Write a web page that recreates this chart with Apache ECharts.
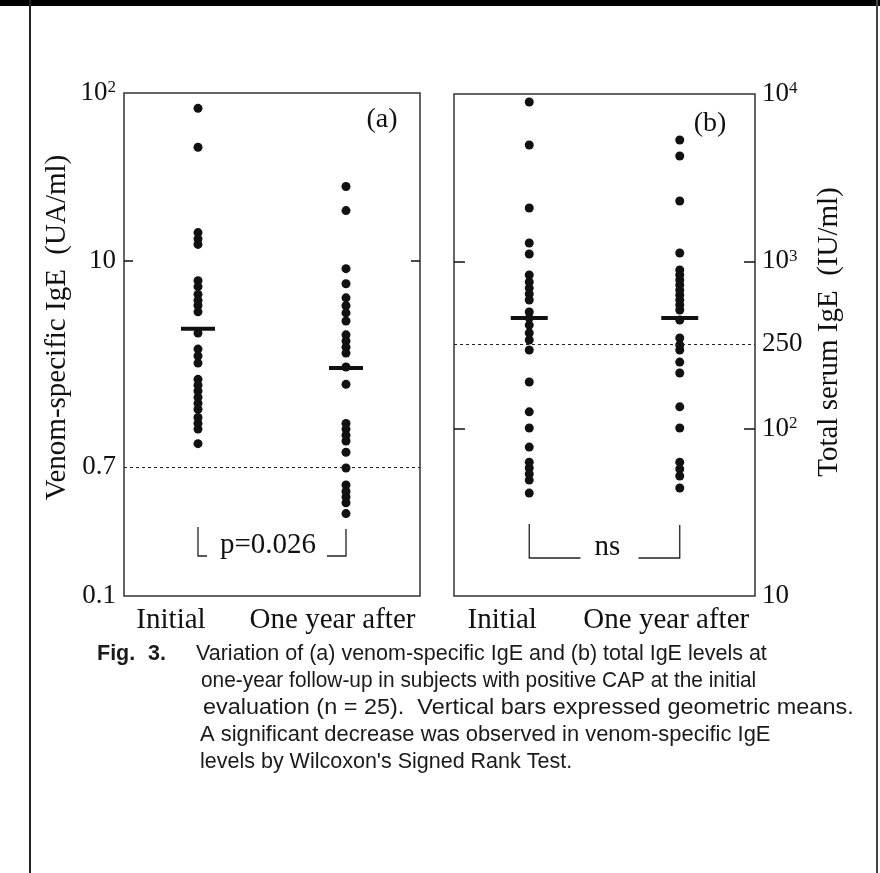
<!DOCTYPE html>
<html><head><meta charset="utf-8">
<script src="https://cdn.jsdelivr.net/npm/echarts@6/dist/echarts.min.js"></script>
<style>html,body{margin:0;padding:0;background:#fff}#c{width:880px;height:873px}</style>
</head><body><div id="c"></div>
<script>
// ---- data ----
const categories = ['Initial', 'One year after'];
const venomInitial = [81, 47.5, 14.7, 13.5, 12.5, 7.6, 7.0, 6.3, 5.8, 5.4, 4.95, 3.7, 2.97, 2.7, 2.45, 1.96, 1.81, 1.67, 1.53, 1.41, 1.3, 1.16, 1.07, 0.99, 0.81];
const venomAfter = [27.7, 19.9, 8.96, 7.28, 6.0, 5.38, 4.88, 4.37, 3.61, 3.32, 3.05, 2.81, 2.32, 1.83, 1.07, 0.99, 0.91, 0.84, 0.72, 0.58, 0.46, 0.42, 0.39, 0.36, 0.31];
const totalInitial = [8960, 4955, 2084, 1286, 1106, 828, 752, 692, 638, 587, 498, 458, 416, 373, 339, 295, 190, 126, 101, 77.6, 63.1, 58.2, 53.6, 49.3, 41.2];
const totalAfter = [5309, 4260, 2293, 1121, 887, 828, 773, 722, 673, 629, 587, 548, 512, 446, 348, 316, 295, 250, 215, 135, 101, 63.1, 57.4, 52.1, 44.2];
const venomMeans = [3.92, 2.29];
const totalMeans = [458, 458];
const venomThreshold = 0.59, venomThresholdLabel = '0.7';
const totalThreshold = 321, totalThresholdLabel = '250';
const venomTickLabels = [0.1, 10, 100];
const venomTicks = [10];
const totalTickLabels = [10, 100, 1000, 10000];
const totalTicks = [100, 1000];
const venomName = 'Venom-specific IgE  (UA/ml)';
const totalName = 'Total serum IgE  (IU/ml)';
const pValueText = 'p=0.026';
const nsText = 'ns';
const captionLines = [
  'Variation of (a) venom-specific IgE and (b) total IgE levels at',
  'one-year follow-up in subjects with positive CAP at the initial',
  'evaluation (n = 25).  Vertical bars expressed geometric means.',
  'A significant decrease was observed in venom-specific IgE',
  "levels by Wilcoxon's Signed Rank Test."
];

// ---- chart ----
const SERIF = '"Liberation Serif", "DejaVu Serif", serif';
const SANS = '"Liberation Sans", Arial, sans-serif';
const INK = '#111';
const chart = echarts.init(document.getElementById('c'), null, {renderer: 'canvas'});

function powLabel(v) {
  const e = Math.round(Math.log10(v));
  if (v >= 100 && Math.abs(v - Math.pow(10, e)) < 1e-6) return '10{s|' + e + '}';
  return String(v);
}
const labelRich = {
  s: {fontSize: 17, fontFamily: SERIF, color: INK, verticalAlign: 'top'}
};
function catLabel(v) { return v === categories[0] ? '{i|' + v + '}' : '{o|' + v + '}'; }
const catRich = {
  i: {fontSize: 29, fontFamily: SERIF, color: INK, padding: [0, 54, 0, 0]},
  o: {fontSize: 29, fontFamily: SERIF, color: INK, padding: [0, 27, 0, 0]}
};
function xAxisFor(g) {
  return {
    gridIndex: g, type: 'category', data: categories, boundaryGap: true,
    axisLine: {show: false}, axisTick: {show: false}, splitLine: {show: false},
    axisLabel: {interval: 0, hideOverlap: false, fontSize: 29, fontFamily: SERIF, color: INK, margin: 10, formatter: catLabel, rich: catRich}
  };
}
const tickStyle = {color: INK, width: 1.5};
function pts(vals, cat) { return vals.map(v => [cat, v]); }
const markLineBase = {
  silent: true, symbol: ['none', 'none'],
  lineStyle: {type: [3, 3], color: '#222', width: 1}
};
const dotStyle = {color: INK, opacity: 1};

chart.setOption({
  animation: false,
  backgroundColor: '#fff',
  grid: [
    {left: 124, top: 93, width: 296, height: 503, show: true, borderColor: '#333', borderWidth: 1.5, backgroundColor: 'transparent'},
    {left: 454, top: 94, width: 301, height: 502, show: true, borderColor: '#333', borderWidth: 1.5, backgroundColor: 'transparent'}
  ],
  xAxis: [xAxisFor(0), xAxisFor(1)],
  yAxis: [
    {
      gridIndex: 0, type: 'log', logBase: 10, min: 0.1, max: 100, position: 'left',
      axisLine: {show: false}, splitLine: {show: false}, minorTick: {show: false},
      axisTick: {show: true, inside: true, length: 9, customValues: venomTicks, lineStyle: tickStyle},
      axisLabel: {customValues: venomTickLabels, formatter: powLabel, rich: labelRich, fontSize: 27, fontFamily: SERIF, color: INK, margin: 8},
      name: venomName, nameLocation: 'middle', nameRotate: 90, nameGap: 52,
      nameTextStyle: {fontSize: 29, fontFamily: SERIF, color: INK, padding: [0, 0, 0, 34]}
    },
    {
      gridIndex: 0, type: 'log', logBase: 10, min: 0.1, max: 100, position: 'right',
      axisLine: {show: false}, splitLine: {show: false},
      axisTick: {show: true, inside: true, length: 9, customValues: venomTicks, lineStyle: tickStyle},
      axisLabel: {show: false}
    },
    {
      gridIndex: 1, type: 'log', logBase: 10, min: 10, max: 10000, position: 'left',
      axisLine: {show: false}, splitLine: {show: false},
      axisTick: {show: true, inside: true, length: 11, customValues: totalTicks, lineStyle: tickStyle},
      axisLabel: {show: false}
    },
    {
      gridIndex: 1, type: 'log', logBase: 10, min: 10, max: 10000, position: 'right',
      axisLine: {show: false}, splitLine: {show: false},
      axisTick: {show: true, inside: true, length: 11, customValues: totalTicks, lineStyle: tickStyle},
      axisLabel: {customValues: totalTickLabels, formatter: powLabel, rich: labelRich, fontSize: 27, fontFamily: SERIF, color: INK, margin: 7},
      name: totalName, nameLocation: 'middle', nameRotate: 90, nameGap: 60,
      nameTextStyle: {fontSize: 29, fontFamily: SERIF, color: INK, padding: [0, 0, 0, 26]}
    }
  ],
  series: [
    {
      type: 'scatter', xAxisIndex: 0, yAxisIndex: 0, symbolSize: 9, itemStyle: dotStyle,
      data: pts(venomInitial, categories[0]).concat(pts(venomAfter, categories[1])),
      markLine: Object.assign({}, markLineBase, {
        data: [{yAxis: venomThreshold}],
        label: {show: true, position: 'start', distance: 8, formatter: venomThresholdLabel, fontSize: 27, fontFamily: SERIF, color: INK}
      })
    },
    {
      type: 'scatter', xAxisIndex: 0, yAxisIndex: 0, symbol: 'rect', symbolSize: [34, 4], itemStyle: dotStyle, z: 3,
      data: categories.map((c, i) => [c, venomMeans[i]])
    },
    {
      type: 'scatter', xAxisIndex: 1, yAxisIndex: 2, symbolSize: 9, itemStyle: dotStyle,
      data: pts(totalInitial, categories[0]).concat(pts(totalAfter, categories[1])),
      markLine: Object.assign({}, markLineBase, {
        data: [{yAxis: totalThreshold}],
        label: {show: true, position: 'end', distance: 7, formatter: totalThresholdLabel, fontSize: 27, fontFamily: SERIF, color: INK}
      })
    },
    {
      type: 'scatter', xAxisIndex: 1, yAxisIndex: 2, symbol: 'rect', symbolSize: [37, 4], itemStyle: dotStyle, z: 3,
      data: categories.map((c, i) => [c, totalMeans[i]])
    }
  ]
});

// ---- annotations placed from the axes ----
const aI = chart.convertToPixel({xAxisIndex: 0}, categories[0]);
const aA = chart.convertToPixel({xAxisIndex: 0}, categories[1]);
const bI = chart.convertToPixel({xAxisIndex: 1}, categories[0]);
const bA = chart.convertToPixel({xAxisIndex: 1}, categories[1]);
const lineSt = {stroke: '#222', lineWidth: 1.3, fill: null};
const CAP_FONT = '21.5px ' + SANS;
const graphics = [
  {type: 'rect', shape: {x: 0, y: 0, width: 880, height: 6}, style: {fill: '#000'}},
  {type: 'rect', shape: {x: 29, y: 0, width: 2, height: 873}, style: {fill: '#222'}},
  {type: 'rect', shape: {x: 876, y: 0, width: 2, height: 873}, style: {fill: '#444'}},
  {type: 'text', x: 382, y: 120, style: {text: '(a)', font: '28px ' + SERIF, fill: INK, align: 'center', verticalAlign: 'middle'}},
  {type: 'text', x: 710, y: 124, style: {text: '(b)', font: '28px ' + SERIF, fill: INK, align: 'center', verticalAlign: 'middle'}},
  // bracket (a)
  {type: 'polyline', shape: {points: [[aI, 527], [aI, 556], [aI + 9, 556]]}, style: lineSt},
  {type: 'polyline', shape: {points: [[aA - 19, 556], [aA, 556], [aA, 529]]}, style: lineSt},
  {type: 'text', x: (aI + aA) / 2 - 4, y: 560, style: {text: pValueText, font: '29px ' + SERIF, fill: INK, align: 'center', verticalAlign: 'bottom'}},
  // bracket (b)
  {type: 'polyline', shape: {points: [[bI, 524], [bI, 558], [(bI + bA) / 2 - 24, 558]]}, style: lineSt},
  {type: 'polyline', shape: {points: [[(bI + bA) / 2 + 34, 558], [bA, 558], [bA, 525]]}, style: lineSt},
  {type: 'text', x: (bI + bA) / 2 + 3, y: 562, style: {text: nsText, font: '29px ' + SERIF, fill: INK, align: 'center', verticalAlign: 'bottom'}},
  // caption
  {type: 'text', x: 97, y: 654, style: {text: 'Fig.', font: 'bold ' + CAP_FONT, fill: '#1a1a1a', verticalAlign: 'middle'}},
  {type: 'text', x: 148, y: 654, style: {text: '3.', font: 'bold ' + CAP_FONT, fill: '#1a1a1a', verticalAlign: 'middle'}}
];
const capX = [196, 201, 203, 200, 200];
const capScale = [1.0, 0.97, 1.09, 1.02, 1.0];
captionLines.forEach((t, i) => {
  graphics.push({type: 'text', x: capX[i], y: 654 + i * 27, scaleX: capScale[i], style: {text: t, font: CAP_FONT, fill: '#1a1a1a', verticalAlign: 'middle'}});
});
chart.setOption({graphic: graphics});
</script></body></html>
